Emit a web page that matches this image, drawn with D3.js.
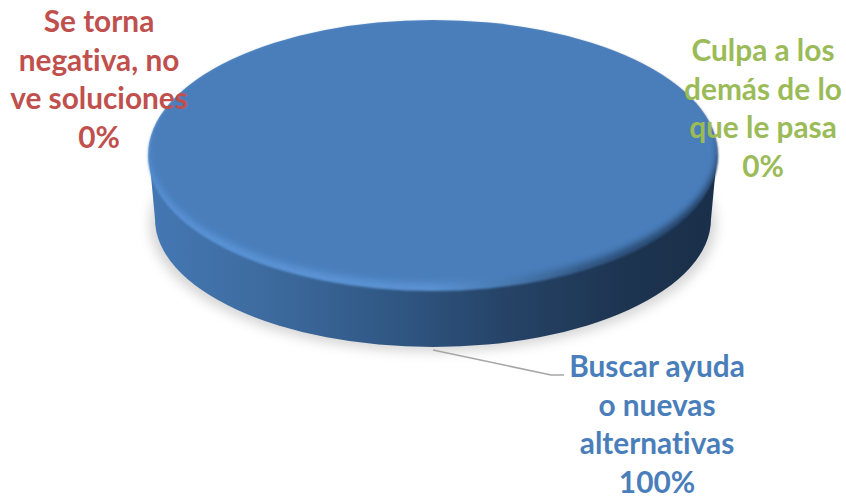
<!DOCTYPE html>
<html>
<head>
<meta charset="utf-8">
<script src="https://cdn.jsdelivr.net/npm/d3@7"></script>
<style>
html,body{margin:0;padding:0;background:#fff}
svg{display:block}
text{font-family:Lato,"Open Sans",sans-serif;font-weight:700;font-size:29.8px;text-anchor:middle;font-variant-ligatures:none}
</style>
</head>
<body>
<div id="chart"></div>
<script>
// Share of answers per category
const categories = ["Buscar ayuda o nuevas alternativas", "Se torna negativa, no ve soluciones", "Culpa a los demás de lo que le pasa"];
const values = [100, 0, 0];
const percentLabels = ["100%", "0%", "0%"];
const labelLines = [
  ["Buscar ayuda", "o nuevas", "alternativas"],
  ["Se torna", "negativa, no", "ve soluciones"],
  ["Culpa a los", "demás de lo", "que le pasa"]
];
const colors = ["#4a7ebb", "#c0504d", "#9bbb59"];

const W = 846, H = 498;
const cx = 433, cy = 155, rx = 285, ry = 135;
const baseY = 219, baseRx = 278, baseRy = 128;

const svg = d3.select("#chart").append("svg").attr("width", W).attr("height", H);
const defs = svg.append("defs");

function hGrad(id, stops) {
  const g = defs.append("linearGradient").attr("id", id)
    .attr("x1", 0).attr("x2", 1).attr("y1", 0).attr("y2", 0);
  stops.forEach(([o, c]) => g.append("stop").attr("offset", o).attr("stop-color", c));
}
hGrad("wall", [[0, "#4477b2"], [0.2, "#3d6b9f"], [0.45, "#2f5581"], [0.62, "#264468"], [0.85, "#1d3450"], [1, "#1a2f49"]]);
hGrad("rim", [[0, "#5a93d8"], [0.3, "#5b94d6"], [0.5, "#5a92d2"], [0.62, "#4a7cb4"], [0.78, "#2f5480"], [1, "#20395a"]]);

const blur = (id, s) => defs.append("filter").attr("id", id)
  .attr("x", "-10%").attr("y", "-10%").attr("width", "120%").attr("height", "130%")
  .append("feGaussianBlur").attr("stdDeviation", s);
blur("shadowBlur", 6);
blur("edgeBlur", 3.5);
blur("rimBlur", 1);

// Slice outlines come from the pie layout, drawn on a circle and flattened into an ellipse
const pie = d3.pie().sort(null).startAngle(Math.PI).endAngle(3 * Math.PI).value(d => d);
const arcs = pie(values);
const arc = d3.arc().innerRadius(0).outerRadius(rx);
const flat = (y, r = ry, w = rx) => `translate(${cx},${y}) scale(${w / rx},${r / rx})`;

// Soft ground shadow
svg.append("g").attr("opacity", 0.3).attr("filter", "url(#shadowBlur)")
  .selectAll("path").data(arcs).join("path")
  .attr("transform", flat(baseY + 5, baseRy, baseRx + 5)).attr("d", arc).attr("fill", "#777");

// Side wall: lower outline plus the band that joins it to the top face
svg.append("g").selectAll("path").data(arcs).join("path")
  .attr("transform", flat(baseY, baseRy, baseRx)).attr("d", arc).attr("fill", "url(#wall)");
svg.append("path")
  .attr("d", d3.line()([[cx - rx + 1, cy], [cx + rx - 1, cy], [cx + baseRx, baseY], [cx - baseRx, baseY]]))
  .attr("fill", "url(#wall)");

// Top face with its bevelled rim, both held inside the upper outline
defs.append("clipPath").attr("id", "rimClip")
  .selectAll("path").data(arcs).join("path")
  .attr("transform", flat(cy + 0.5, ry + 1, rx + 0.5)).attr("d", arc);
defs.append("clipPath").attr("id", "topClip")
  .selectAll("path").data(arcs).join("path")
  .attr("transform", flat(cy)).attr("d", arc);
svg.append("g").attr("filter", "url(#rimBlur)")
  .append("g").attr("clip-path", "url(#rimClip)")
  .selectAll("path").data(arcs).join("path")
  .attr("transform", flat(cy + 1)).attr("d", arc).attr("fill", "url(#rim)");
const face = svg.append("g").attr("clip-path", "url(#topClip)");
face.append("g").attr("filter", "url(#edgeBlur)")
  .selectAll("path").data(arcs).join("path")
  .attr("transform", flat(cy - 6, ry - 1)).attr("d", arc)
  .attr("fill", (d, i) => colors[i]);

// Leader line for the only visible slice
svg.append("path")
  .attr("d", d3.line()([[433, 350], [551, 375], [564, 375]]))
  .attr("fill", "none").attr("stroke", "#a6a6a6").attr("stroke-width", 1.5);

// Data labels
const labelPos = [
  { x: 657, y: 377 },
  { x: 99, y: 32 },
  { x: 763, y: 61 }
];
const lineStep = 38.7;
categories.forEach((c, i) => {
  const t = svg.append("text").attr("fill", colors[i]);
  labelLines[i].concat(percentLabels[i]).forEach((s, k) => {
    t.append("tspan").attr("x", labelPos[i].x).attr("y", labelPos[i].y + k * lineStep).text(s);
  });
});
</script>
</body>
</html>
